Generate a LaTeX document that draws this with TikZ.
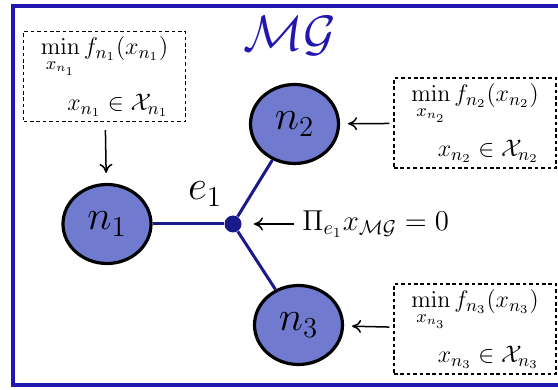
\documentclass[tikz,border=0pt]{standalone}
\usepackage{amsmath,amssymb}
\usetikzlibrary{arrows.meta,positioning,shapes.geometric}
\definecolor{frameblue}{HTML}{2116B0}
\definecolor{nodefill}{HTML}{707BCF}
\definecolor{edgenavy}{HTML}{1A1A8A}
\tikzset{agent/.style={ellipse,draw=black,line width=1.6pt,fill=nodefill,minimum width=44pt,minimum height=39.5pt,inner sep=0pt,font=\fontsize{22}{26}\selectfont},prob/.style={draw=black,line width=0.7pt,dash pattern=on 1.8pt off 1.4pt,minimum width=81pt,minimum height=45pt,inner sep=0pt,align=right,font=\fontsize{12.5}{15}\selectfont},link/.style={draw=edgenavy,line width=1.5pt},hub/.style={circle,fill=edgenavy,inner sep=0pt,minimum size=8.5pt},feed/.style={-{To[length=4.5pt,width=6.5pt]},line width=0.75pt}}
\newcommand{\localprob}[1]{$\min\limits_{x_{n_{#1}}} f_{n_{#1}}(x_{n_{#1}})$\\[7pt]$x_{n_{#1}}\in\mathcal{X}_{n_{#1}}$}

\begin{document}
\begin{tikzpicture}[x=0.5pt,y=-0.5pt]
\useasboundingbox (0,0) rectangle (558,390);
\clip (0,0) rectangle (558,390);
\draw[frameblue,line width=2.2pt] (13,6) rectangle (620,385);
\node[text=frameblue,font=\Huge] (mg) at (290,36) {$\mathcal{MG}$};
\node[agent] (n1) at (107,224) {$n_1$};
\node[agent] (n2) at (294.5,124) {$n_2$};
\node[agent] (n3) at (298.5,325) {$n_3$};
\node[hub] (e) at (233,224) {};
\node[font=\fontsize{22}{26}\selectfont] (elab) at (205,194) {$e_1$};
\draw[link] (n1)--(e);\draw[link] (e)--(n2);\draw[link] (e)--(n3);
\node[prob] (p1) at (104.5,76.5) {\localprob{1}};
\node[prob] (p2) at (475,123) {\localprob{2}};
\node[prob] (p3) at (475,329) {\localprob{3}};
\node[font=\fontsize{14}{17}\selectfont,anchor=west,inner sep=1pt] (cons) at (300,224) {$\Pi_{e_1}x_{\mathcal{MG}}=0$};
\draw[feed,shorten <=4pt,shorten >=5pt] (p1)--(n1);
\draw[feed,shorten <=2pt,shorten >=4pt] (p2)--(n2);
\draw[feed,shorten <=2pt,shorten >=4pt] (p3)--(n3);
\draw[feed,shorten <=3pt,shorten >=6pt] (cons)--(e);
\end{tikzpicture}
\end{document}
